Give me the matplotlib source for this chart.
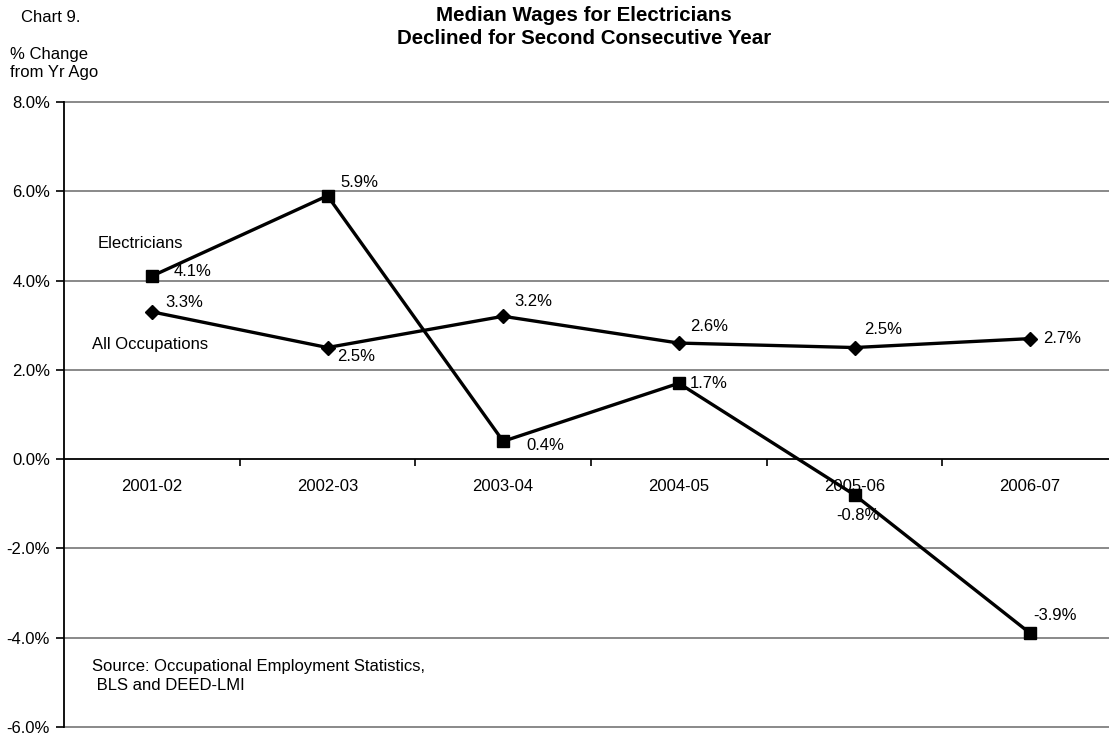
import matplotlib
matplotlib.use("Agg")
import matplotlib.pyplot as plt
from matplotlib.ticker import FixedLocator

plt.rcParams['font.family'] = ['Liberation Sans', 'DejaVu Sans']

years = ["2001-02", "2002-03", "2003-04", "2004-05", "2005-06", "2006-07"]
electricians = [4.1, 5.9, 0.4, 1.7, -0.8, -3.9]
all_occupations = [3.3, 2.5, 3.2, 2.6, 2.5, 2.7]
y_ticks = [-6, -4, -2, 0, 2, 4, 6, 8]

# label offsets in pixels (dx, dy)
elec_offsets = [(22, 5), (13, 13), (23, -4), (11, 0), (-18, -21), (3, 18)]
all_offsets = [(13, 9), (10, -9), (11, 15), (11, 17), (10, 18), (13, 0)]

W, H = 1109, 736
fig = plt.figure(figsize=(W / 100, H / 100), dpi=100)
ax = fig.add_axes([64 / W, 9 / H, (1118 - 64) / W, 625 / H])
ax.set_xlim(-0.5, 5.5)
ax.set_ylim(-6, 8)

x = list(range(len(years)))
fs = 12

for yv in y_ticks:
    if yv != 0:
        ax.axhline(yv, color='#808080', lw=1.3, zorder=1, clip_on=False)

ax.plot(x, electricians, color='black', lw=2.4, marker='s', ms=9, zorder=3)
ax.plot(x, all_occupations, color='black', lw=2.4, marker='D', ms=7, zorder=3)

for xi, v, (dx, dy) in zip(x, electricians, elec_offsets):
    ax.annotate(f"{v:.1f}%", (xi, v), xytext=(dx, dy), textcoords='offset pixels',
                ha='left', va='center', fontsize=fs, zorder=4)
for xi, v, (dx, dy) in zip(x, all_occupations, all_offsets):
    ax.annotate(f"{v:.1f}%", (xi, v), xytext=(dx, dy), textcoords='offset pixels',
                ha='left', va='center', fontsize=fs, zorder=4)

ax.spines['top'].set_visible(False)
ax.spines['right'].set_visible(False)
ax.spines['bottom'].set_position(('data', 0))
ax.spines['bottom'].set_linewidth(1.3)
ax.spines['left'].set_linewidth(1.3)

ax.set_yticks(y_ticks)
ax.set_yticklabels([f"{v:.1f}%" for v in y_ticks], fontsize=fs)
ax.tick_params(axis='y', direction='out', length=6, width=1.2, pad=4)

ax.set_xticks(x)
ax.set_xticklabels(years, fontsize=fs)
ax.tick_params(axis='x', which='major', length=0, pad=14)
ax.xaxis.set_minor_locator(FixedLocator([i + 0.5 for i in range(5)]))
ax.tick_params(axis='x', which='minor', direction='out', length=5, width=1.2)

fig.text(98 / W, 1 - 244 / H, "Electricians", fontsize=fs, ha='left', va='center')
fig.text(92 / W, 1 - 345 / H, "All Occupations", fontsize=fs, ha='left', va='center')
fig.text(21 / W, 1 - 17 / H, "Chart 9.", fontsize=fs, ha='left', va='center')
fig.text(10 / W, 1 - 64 / H, "% Change\nfrom Yr Ago", fontsize=fs, ha='left', va='center',
         linespacing=1.25)
fig.text(584 / W, 1 - 27 / H, "Median Wages for Electricians\nDeclined for Second Consecutive Year",
         fontsize=14.8, fontweight='bold', ha='center', va='center', linespacing=1.3)
fig.text(92 / W, 1 - 676 / H, "Source: Occupational Employment Statistics,\n BLS and DEED-LMI",
         fontsize=fs, ha='left', va='center', linespacing=1.25)

fig.savefig("out.png", dpi=100)
